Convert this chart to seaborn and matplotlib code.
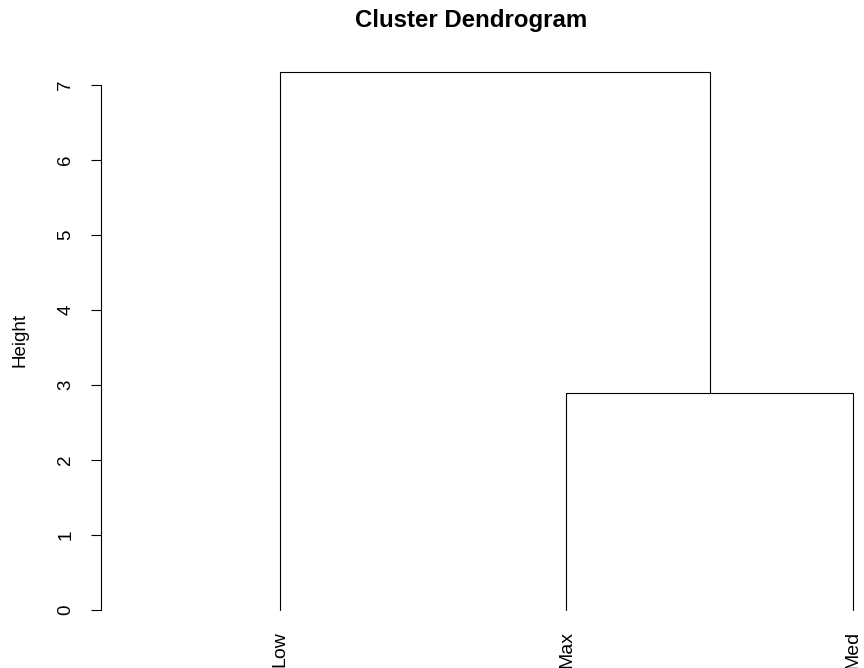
import matplotlib
matplotlib.use("Agg")
import matplotlib.pyplot as plt
import seaborn as sns
import pandas as pd
import numpy as np

# ---- data ----
labels = ["Low", "Max", "Med"]
merge_left = [-2, -1]     # R-style merge matrix (negative = leaf index, positive = earlier merge)
merge_right = [-3, 1]
merge_heights = [2.89, 7.17]
yticks = [0, 1, 2, 3, 4, 5, 6, 7]

sns.set_style("white")
plt.rcParams["font.family"] = ["Liberation Sans", "DejaVu Sans"]
plt.rcParams["text.color"] = "black"
plt.rcParams["ytick.color"] = "black"
plt.rcParams["ytick.labelcolor"] = "black"

W, H = 864, 668
fig = plt.figure(figsize=(W / 100, H / 100), dpi=100)
ax = fig.add_axes([101 / W, (H - 631.5) / H, (W - 101) / W, (631.5 - 50.7) / H])

# leaf positions
leaf_x = {i + 1: i + 1 for i in range(len(labels))}
node_x, node_h = {}, {}

def pos(idx):
    if idx < 0:
        return leaf_x[-idx], 0.0
    return node_x[idx], node_h[idx]

rows = []
for k, (a, b, h) in enumerate(zip(merge_left, merge_right, merge_heights), start=1):
    xa, ha = pos(a)
    xb, hb = pos(b)
    for px, py in [(xa, ha), (xa, h), (xb, h), (xb, hb)]:
        rows.append({"x": px, "y": py, "node": k})
    node_x[k] = (xa + xb) / 2
    node_h[k] = h
df = pd.DataFrame(rows)

sns.lineplot(data=df, x="x", y="y", units="node", estimator=None, sort=False,
             color="black", linewidth=0.8, ax=ax)

ax.set_xlim(0.376, 3.038)
ax.set_ylim(-0.287, 7.457)
for s in ["top", "right", "bottom"]:
    ax.spines[s].set_visible(False)
ax.spines["left"].set_bounds(0, 7)
ax.spines["left"].set_linewidth(0.8)
ax.spines["left"].set_color("black")
ax.set_xticks([])
ax.set_yticks(yticks)
ax.set_yticklabels([str(t) for t in yticks], rotation=90, va="center", color="black")
ax.tick_params(axis="y", direction="out", length=7.2, width=0.8, color="black",
               labelsize=13.5, pad=12, left=True, labelcolor="black")
ax.set_xlabel("")
ax.set_ylabel("")

for i, lab in enumerate(labels):
    ax.text(i + 1, -0.28, lab, rotation=90, ha="center", va="top",
            fontsize=14, color="black", clip_on=False,
            transform=ax.transData)

fig.text(471 / W, 1 - 20 / H, "Cluster Dendrogram", ha="center", va="center",
         fontsize=17.3, fontweight="bold", color="black")
fig.text(20 / W, 1 - 340 / H, "Height", ha="center", va="center",
         rotation=90, fontsize=13.5, color="black")

fig.savefig("out.png", dpi=100)
